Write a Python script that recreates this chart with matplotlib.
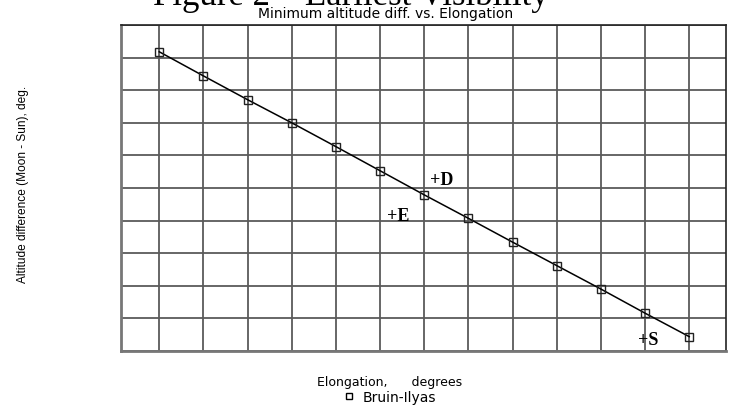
import matplotlib
matplotlib.use("Agg")
import matplotlib.pyplot as plt
from matplotlib.lines import Line2D

# elongation (deg) and minimum altitude difference (deg)
elongation = [8, 9, 10, 11, 12, 13, 14, 15, 16, 17, 18, 19, 20]
alt_diff = [9.18, 8.44, 7.71, 7.00, 6.27, 5.53, 4.79, 4.07, 3.34, 2.62, 1.90, 1.16, 0.44]

x_grid = list(range(8, 21))
y_grid = list(range(0, 11))

# point labels scattered on the chart
mark_text = ["+D", "+E", "+S"]
mark_x = [14.39, 13.42, 19.06]
mark_y = [5.25, 4.17, 0.34]

SANS = ["Liberation Sans", "DejaVu Sans"]
WIDE = ["DejaVu Sans"]
SERIF = ["Liberation Serif", "DejaVu Serif"]

fig = plt.figure(figsize=(7.31, 4.10), dpi=100)
ax = fig.add_axes([0.165, 0.1415, 0.828, 0.795])

ax.plot(elongation, alt_diff, color="black", lw=1.1, marker="s", ms=5.5,
        mfc="none", mec="#222222", mew=1.0, zorder=3)

ax.set_xlim(7.126, 20.83)
ax.set_ylim(0, 10)
ax.set_xticks(x_grid)
ax.set_yticks(y_grid)
ax.tick_params(length=0, labelbottom=False, labelleft=False)
ax.grid(True, color="#5a5a5a", lw=1.3)
for side in ["left", "bottom"]:
    ax.spines[side].set_color("#777777")
    ax.spines[side].set_linewidth(2.0)
for side in ["top", "right"]:
    ax.spines[side].set_color("#222222")
    ax.spines[side].set_linewidth(1.2)

for t, x, y in zip(mark_text, mark_x, mark_y):
    ax.text(x, y, t, family=SERIF, fontweight="bold", fontsize=13,
            ha="center", va="center", zorder=4)

fig.text(0.480, 0.988, "Figure 2 \u2013 Earliest Visibility", family=SERIF,
         fontsize=25, ha="center", va="baseline")
fig.text(0.527, 0.967, "Minimum altitude diff. vs. Elongation", family=WIDE,
         fontsize=10, ha="center", va="center")
fig.text(0.031, 0.551, "Altitude difference (Moon - Sun), deg.", family=SANS,
         fontsize=8.6, rotation=90, ha="center", va="center")
fig.text(0.434, 0.066, "Elongation,      degrees", family=WIDE,
         fontsize=9, ha="left", va="center")

handle = Line2D([], [], ls="none", marker="s", ms=5, mfc="none", mec="black", mew=1.0)
fig.legend([handle], ["Bruin-Ilyas"], loc="center left", bbox_to_anchor=(0.468, 0.029),
           frameon=False, prop={"family": WIDE, "size": 10},
           handletextpad=0.45, handlelength=1.0, borderpad=0, borderaxespad=0)

fig.savefig("out.png", dpi=100)
